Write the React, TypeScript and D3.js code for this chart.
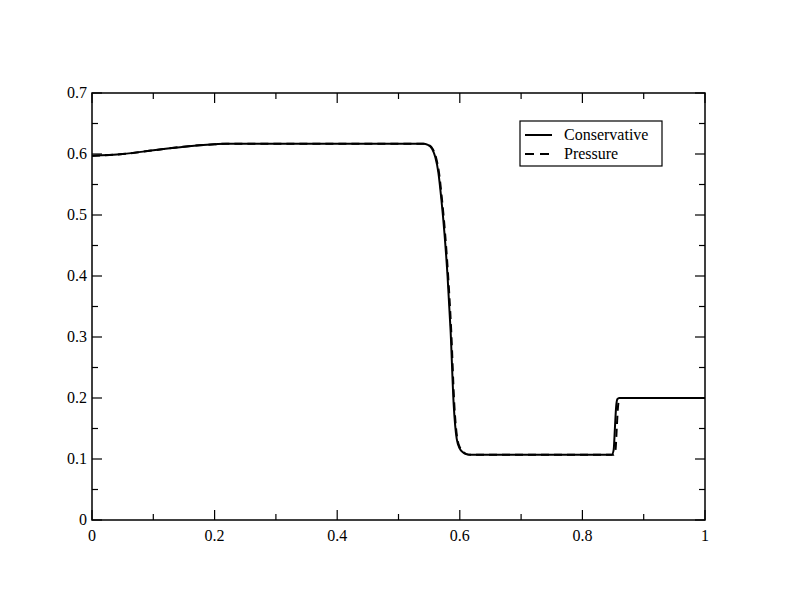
import React from 'react';
import * as d3 from 'd3';

// Conservative solution
const consX = [0, 0.05, 0.1, 0.15, 0.2, 0.22, 0.54, 0.548, 0.555, 0.56, 0.565, 0.57, 0.575, 0.58, 0.585, 0.59, 0.595, 0.6, 0.605, 0.61, 0.617, 0.848, 0.851, 0.853, 0.855, 0.857, 0.86, 1];
const consY = [0.597, 0.6, 0.606, 0.612, 0.616, 0.617, 0.617, 0.615, 0.608, 0.595, 0.57, 0.525, 0.47, 0.4, 0.31, 0.19, 0.133, 0.117, 0.111, 0.108, 0.107, 0.107, 0.115, 0.15, 0.185, 0.198, 0.2, 0.2];

// Pressure solution
const presX = [0, 0.05, 0.1, 0.15, 0.2, 0.22, 0.541, 0.549, 0.556, 0.561, 0.566, 0.571, 0.576, 0.581, 0.586, 0.591, 0.596, 0.601, 0.606, 0.611, 0.618, 0.851, 0.854, 0.856, 0.858, 0.86, 0.863, 1];
const presY = [0.597, 0.6, 0.606, 0.612, 0.616, 0.617, 0.617, 0.615, 0.608, 0.595, 0.57, 0.525, 0.47, 0.4, 0.31, 0.19, 0.133, 0.117, 0.111, 0.108, 0.107, 0.107, 0.115, 0.15, 0.185, 0.198, 0.2, 0.2];

const xTicks = [0, 0.2, 0.4, 0.6, 0.8, 1];
const yTicks = [0, 0.1, 0.2, 0.3, 0.4, 0.5, 0.6, 0.7];
const legendLabels = ['Conservative', 'Pressure'];

const W = 792;
const H = 612;
const margin = { top: 93, right: 87, bottom: 92, left: 92 };

export default function App() {
  const innerW = W - margin.left - margin.right;
  const innerH = H - margin.top - margin.bottom;

  const x = d3.scaleLinear().domain([0, 1]).range([0, innerW]);
  const y = d3.scaleLinear().domain([0, 0.7]).range([innerH, 0]);

  const line = d3.line<[number, number]>()
    .x((d) => x(d[0]))
    .y((d) => y(d[1]))
    .curve(d3.curveMonotoneX);

  const consPath = line(consX.map((v, i) => [v, consY[i]]) as [number, number][]) || '';
  const presPath = line(presX.map((v, i) => [v, presY[i]]) as [number, number][]) || '';

  const xMinor = d3.range(1, 10, 2).map((i) => i / 10);
  const yMinor = d3.range(1, 14, 2).map((i) => i / 20);

  const font = '"Liberation Serif", "Times New Roman", serif';
  const major = 10;
  const minor = 6;

  return (
    <svg width={W} height={H} style={{ position: 'absolute', left: 0, top: 0, background: '#fff' }}>
      <rect width={W} height={H} fill="#fff" />
      <g transform={`translate(${margin.left},${margin.top})`}>
        {/* curves */}
        <path d={presPath} fill="none" stroke="#000" strokeWidth={2} strokeDasharray="8,5" />
        <path d={consPath} fill="none" stroke="#000" strokeWidth={2} />

        {/* frame */}
        <rect x={0} y={0} width={innerW} height={innerH} fill="none" stroke="#000" strokeWidth={1.5} />

        {/* x ticks */}
        {xTicks.map((t) => (
          <g key={'xt' + t}>
            <line x1={x(t)} x2={x(t)} y1={innerH} y2={innerH - major} stroke="#000" strokeWidth={1.2} />
            <line x1={x(t)} x2={x(t)} y1={0} y2={major} stroke="#000" strokeWidth={1.2} />
            <text x={x(t)} y={innerH + 21} textAnchor="middle" fontFamily={font} fontSize={16}>{String(t)}</text>
          </g>
        ))}
        {xMinor.map((t) => (
          <g key={'xm' + t}>
            <line x1={x(t)} x2={x(t)} y1={innerH} y2={innerH - minor} stroke="#000" strokeWidth={1.2} />
            <line x1={x(t)} x2={x(t)} y1={0} y2={minor} stroke="#000" strokeWidth={1.2} />
          </g>
        ))}

        {/* y ticks */}
        {yTicks.map((t) => (
          <g key={'yt' + t}>
            <line x1={0} x2={major} y1={y(t)} y2={y(t)} stroke="#000" strokeWidth={1.2} />
            <line x1={innerW} x2={innerW - major} y1={y(t)} y2={y(t)} stroke="#000" strokeWidth={1.2} />
            <text x={-5} y={y(t) + 5} textAnchor="end" fontFamily={font} fontSize={16}>{String(t)}</text>
          </g>
        ))}
        {yMinor.map((t) => (
          <g key={'ym' + t}>
            <line x1={0} x2={minor} y1={y(t)} y2={y(t)} stroke="#000" strokeWidth={1.2} />
            <line x1={innerW} x2={innerW - minor} y1={y(t)} y2={y(t)} stroke="#000" strokeWidth={1.2} />
          </g>
        ))}
      </g>

      {/* legend */}
      <g transform="translate(520,121)">
        <rect x={0} y={0} width={142} height={45} fill="#fff" stroke="#000" strokeWidth={1.2} />
        {legendLabels.map((lab, i) => (
          <g key={lab} transform={`translate(0,${14 + i * 19})`}>
            <line x1={5} x2={32} y1={0} y2={0} stroke="#000" strokeWidth={2} strokeDasharray={i === 1 ? '9,6' : undefined} />
            <text x={44} y={5} fontFamily={font} fontSize={16}>{lab}</text>
          </g>
        ))}
      </g>
    </svg>
  );
}
